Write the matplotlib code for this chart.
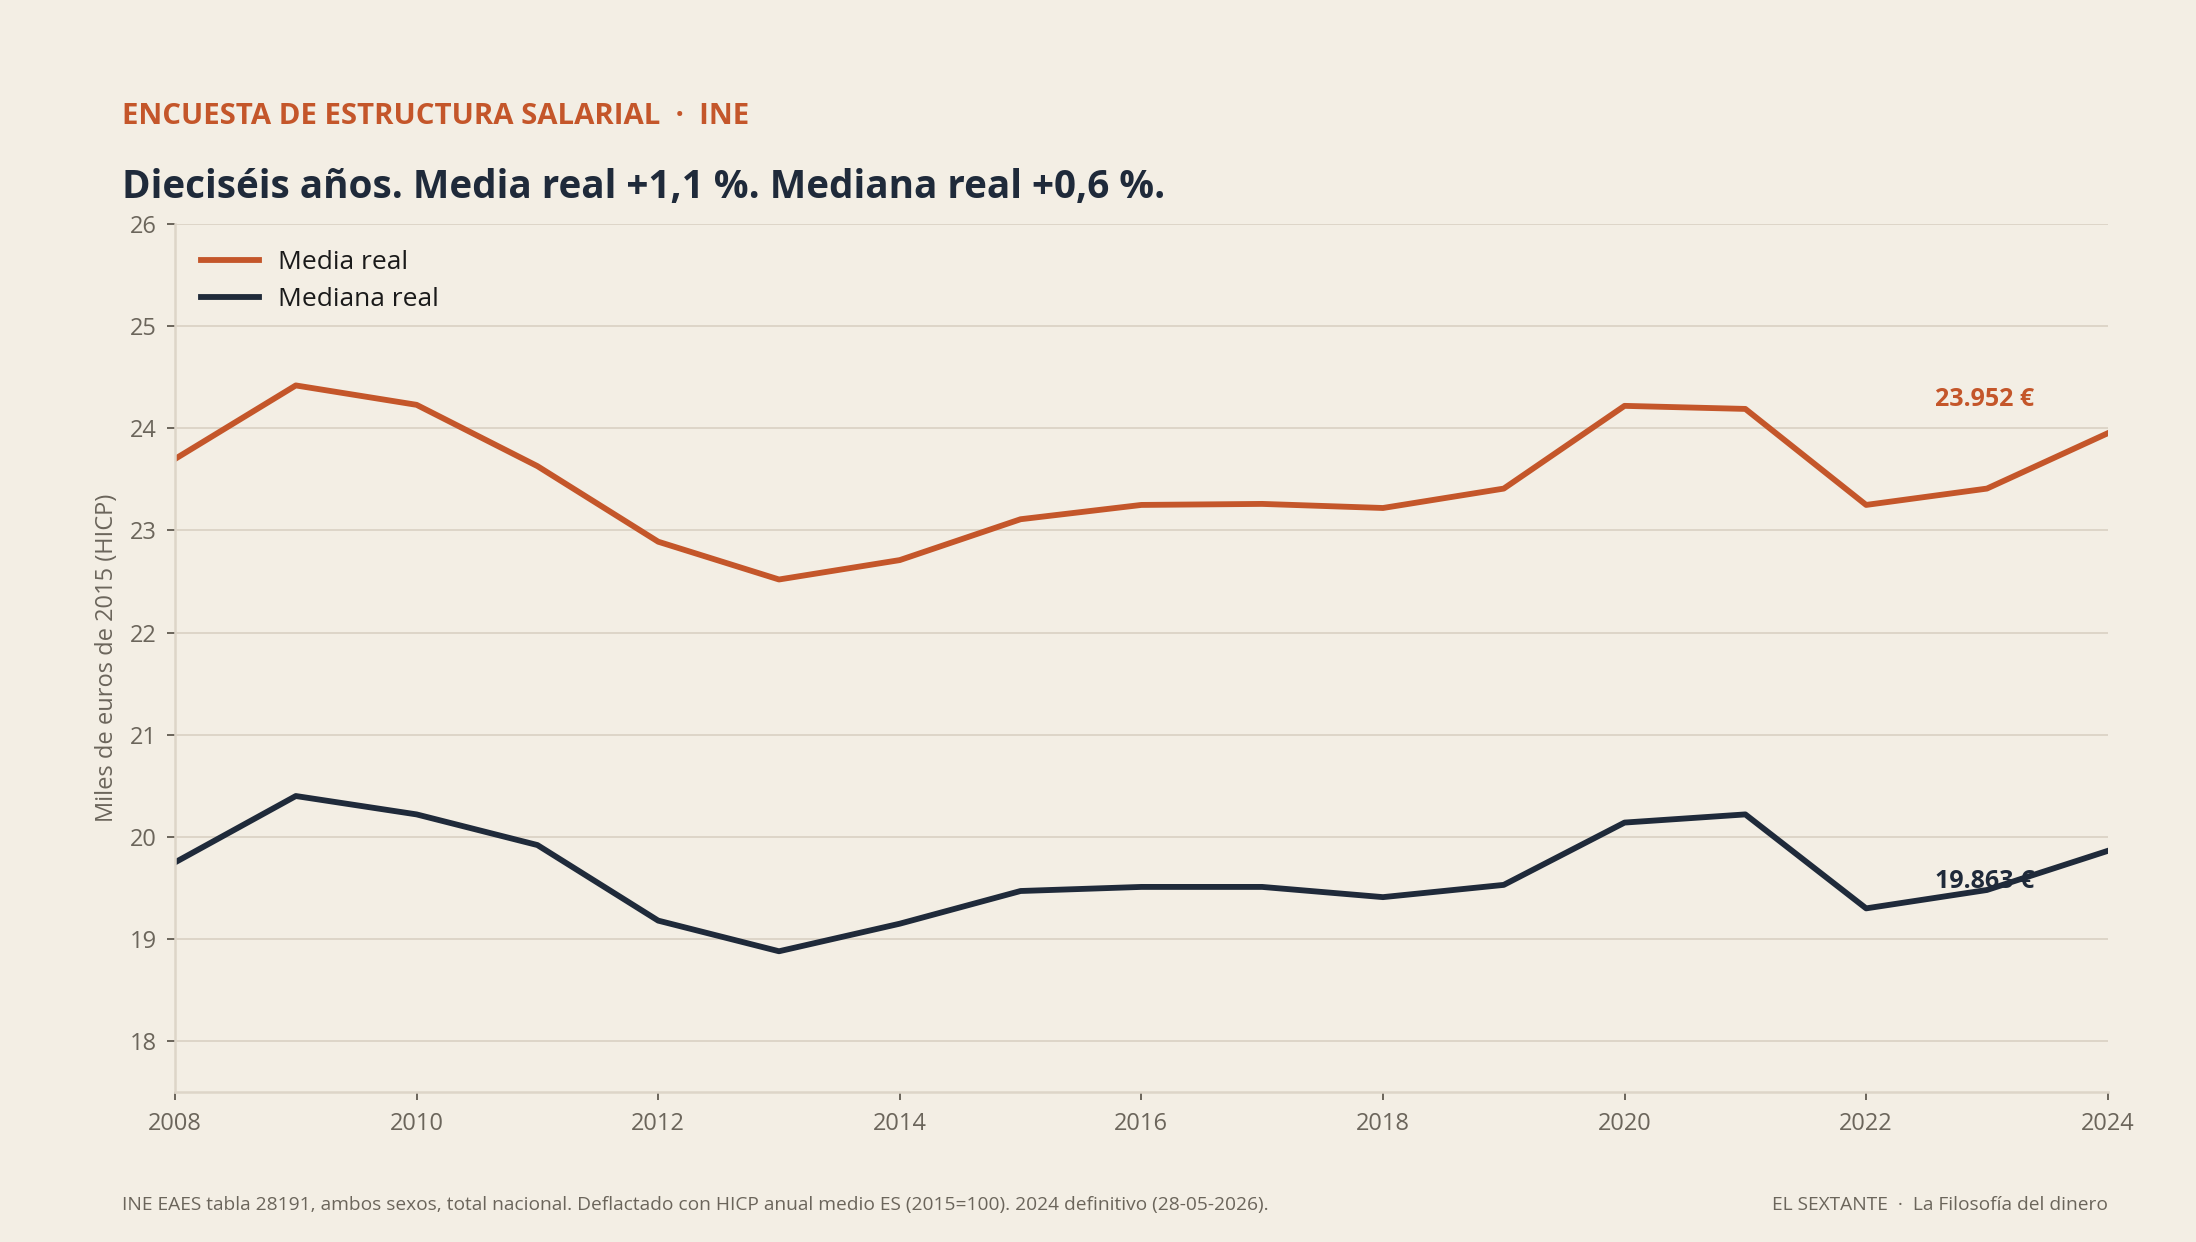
import matplotlib
matplotlib.use("Agg")
import matplotlib.pyplot as plt

plt.rcParams['font.family'] = ['Open Sans', 'DejaVu Sans']

# datos (miles de euros de 2015)
years = [2008, 2009, 2010, 2011, 2012, 2013, 2014, 2015, 2016,
         2017, 2018, 2019, 2020, 2021, 2022, 2023, 2024]
media = [23.70, 24.42, 24.23, 23.63, 22.89, 22.52, 22.71, 23.11, 23.25,
         23.26, 23.22, 23.41, 24.22, 24.19, 23.25, 23.41, 23.952]
mediana = [19.75, 20.40, 20.22, 19.92, 19.18, 18.88, 19.15, 19.47, 19.51,
           19.51, 19.41, 19.53, 20.14, 20.22, 19.30, 19.48, 19.863]
yticks = [18, 19, 20, 21, 22, 23, 24, 25, 26]
xticks = [2008, 2010, 2012, 2014, 2016, 2018, 2020, 2022, 2024]

BG = '#f3eee4'
ORANGE = '#c4562a'
NAVY = '#1f2a3a'
GRID = '#ddd5c8'
GREY = '#6b655b'

fig = plt.figure(figsize=(10.98, 6.21), dpi=200, facecolor=BG)
ax = fig.add_axes([0.0797, 0.1206, 0.8801, 0.699])
ax.set_facecolor(BG)

ax.plot(years, media, color=ORANGE, lw=2.1, label='Media real')
ax.plot(years, mediana, color=NAVY, lw=2.1, label='Mediana real')

ax.set_xlim(2008, 2024)
ax.set_ylim(17.5, 26)
ax.set_xticks(xticks)
ax.set_yticks(yticks)
ax.grid(axis='y', color=GRID, lw=0.7)
ax.set_axisbelow(True)
for s in ['top', 'right']:
    ax.spines[s].set_visible(False)
for s in ['left', 'bottom']:
    ax.spines[s].set_color(GRID)
    ax.spines[s].set_linewidth(0.9)
ax.tick_params(axis='both', colors=GREY, labelsize=8.5, length=3, width=0.7)
ax.tick_params(axis='x', pad=4)
ax.set_ylabel('Miles de euros de 2015 (HICP)', color=GREY, fontsize=8.5, labelpad=4)

leg = ax.legend(loc='upper left', frameon=False, fontsize=9.5, handlelength=2.2,
                handletextpad=0.7, labelspacing=0.45, borderaxespad=0.6)
for t in leg.get_texts():
    t.set_color('#1a1a1a')

ax.annotate('23.952 €', (years[-1], media[-1]), xytext=(-26.5, 12),
            textcoords='offset points', ha='right', va='center',
            color=ORANGE, fontsize=9, fontweight='bold')
ax.annotate('19.863 €', (years[-1], mediana[-1]), xytext=(-26.5, -11),
            textcoords='offset points', ha='right', va='center',
            color=NAVY, fontsize=9, fontweight='bold')

fig.text(0.0555, 0.906, 'ENCUESTA DE ESTRUCTURA SALARIAL  ·  INE', color=ORANGE,
         fontsize=10.6, fontweight='bold', va='center')
fig.text(0.0555, 0.849, 'Dieciséis años. Media real +1,1 %. Mediana real +0,6 %.',
         color=NAVY, fontsize=13.9, fontweight='bold', va='center')
fig.text(0.0555, 0.030, 'INE EAES tabla 28191, ambos sexos, total nacional. Deflactado con HICP '
         'anual medio ES (2015=100). 2024 definitivo (28-05-2026).',
         color=GREY, fontsize=6.9, va='center')
fig.text(0.9598, 0.030, 'EL SEXTANTE  ·  La Filosofía del dinero', color=GREY,
         fontsize=6.9, va='center', ha='right')

fig.savefig('out.png', dpi=200, facecolor=BG)
